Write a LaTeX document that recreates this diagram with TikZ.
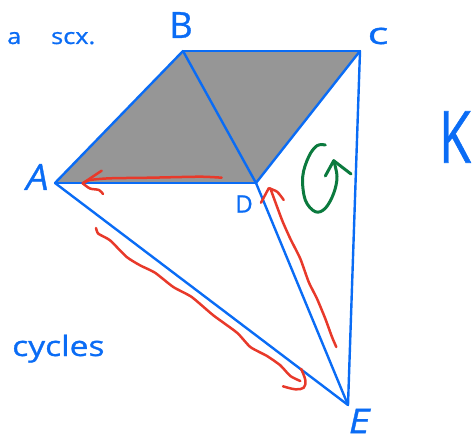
\documentclass[tikz,border=0pt]{standalone}
\usepackage{fontspec}
\setmainfont{Open Sans}
\newfontfamily\handfont[FakeBold=0.9]{Open Sans}
\definecolor{inkblue}{HTML}{0A6CF5}
\definecolor{inkred}{HTML}{E8392A}
\definecolor{inkgreen}{HTML}{0B7A3E}
\definecolor{cellgray}{HTML}{969696}
\tikzset{
  edgeline/.style={draw=inkblue,line width=2.4pt,line join=round,line cap=round},
  redink/.style={draw=inkred,line width=2.5pt,line cap=round,line join=round},
  greenink/.style={draw=inkgreen,line width=3pt,line cap=round,line join=round},
  handlabel/.style={text=inkblue,inner sep=0pt}
}
\begin{document}
\begin{tikzpicture}[x=1pt,y=-1pt]
\useasboundingbox (0,0) rectangle (474,444);
\coordinate (A) at (55,183);
\coordinate (B) at (183,51);
\coordinate (C) at (360,51);
\coordinate (D) at (256,183);
\coordinate (E) at (348,405);
\fill[cellgray] (A) -- (B) -- (C) -- (D) -- cycle;
\draw[edgeline] (A) -- (B);
\draw[edgeline] (B) -- (C);
\draw[edgeline] (B) -- (D);
\draw[edgeline] (A) -- (D);
\draw[edgeline] (C) -- (D);
\draw[edgeline] (C) -- (E);
\draw[edgeline] (D) -- (E);
\draw[edgeline] (A) -- (E);
% red arrows
\draw[redink] plot[smooth,tension=0.4] coordinates {(221.7,177.7) (200,176.7) (150,177.7) (110,178.3) (90,180) (82.7,183.3)};
\draw[redink] (101.7,170.7) -- (82.7,183.3);
\draw[redink] plot[smooth,tension=0.5] coordinates {(82.7,183.3) (90,188.5) (99,190) (103,194)};
\draw[redink] plot[smooth,tension=0.35] coordinates {(336.3,347) (332,337) (325.3,318.7) (317,298.7) (308.7,282) (300.3,258.7) (290.3,238.7) (282,220) (270.3,188.3)};
\draw[redink] (261,202.7) -- (268.7,188.3);
\draw[redink] plot[smooth,tension=0.5] coordinates {(268.7,188.3) (277,191.7) (283.7,200)};
\draw[redink] plot[smooth,tension=0.35] coordinates {(96,228) (98.3,233.7) (110,240.3) (126.7,257) (140,265.3) (155,272.7) (173.3,287) (191.7,297) (213.3,315.3) (237,332.7) (250.3,347) (267,356) (280.3,365.3) (290.3,376) (300.3,381)};
\draw[redink] plot[smooth,tension=0.6] coordinates {(301,368.7) (305.3,380) (303.7,387.7) (295.3,389.3) (283,386.3)};
% green rotation arrow
\draw[greenink] plot[smooth,tension=0.6] coordinates {(325.3,145) (317,145.7) (308.7,156.7) (302.7,176.7) (305.3,200) (315.3,211.7) (325.3,208.3) (333.7,193.3) (337,176.7) (333.7,160.7)};
\draw[greenink] (325.3,176) -- (333.7,160.7) -- (351,174);
% labels
\node[handlabel,font=\handfont\fontsize{22}{26}\selectfont,xscale=1.15,anchor=base west] (title) at (7,44) {a\hspace{26pt}scx.};
\node[handlabel,font=\handfont\fontsize{36}{40}\selectfont] (labB) at (181,25) {B};
\node[handlabel,font=\handfont\fontsize{30}{34}\selectfont,xscale=1.45] (labC) at (378,36) {c};
\node[handlabel,font=\handfont\fontsize{36}{40}\selectfont,xslant=0.2] (labA) at (38,177) {A};
\node[handlabel,font=\handfont\fontsize{24}{30}\selectfont] (labD) at (244,204) {D};
\node[handlabel,font=\handfont\fontsize{72}{76}\selectfont,xscale=0.72] (labK) at (455,137) {K};
\node[handlabel,font=\handfont\fontsize{34}{38}\selectfont,xscale=1.1,xslant=0.2] (labE) at (360,421) {E};
\node[handlabel,font=\handfont\fontsize{28}{32}\selectfont,xscale=1.2,anchor=base west] (cyc) at (12,356) {cycles};
\end{tikzpicture}
\end{document}
